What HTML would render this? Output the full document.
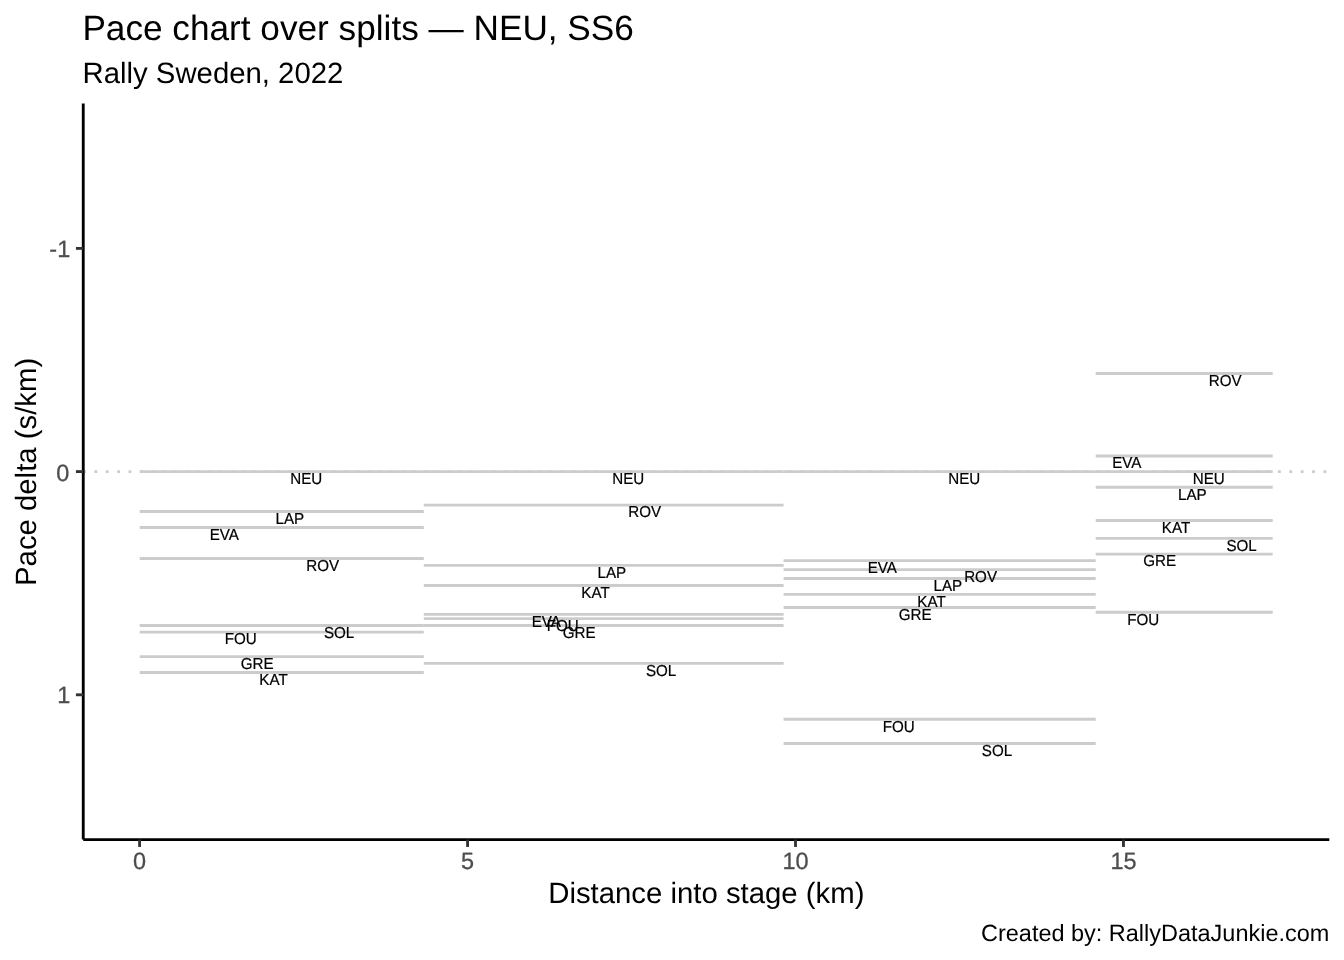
<!DOCTYPE html>
<html lang="en">
<head>
<meta charset="utf-8">
<title>Pace chart over splits — NEU, SS6</title>
<style>
html,body{margin:0;padding:0;background:#ffffff;}
body{width:1344px;height:960px;overflow:hidden;}
svg{display:block;}
text{font-family:"Liberation Sans",sans-serif;text-rendering:geometricPrecision;}
.title{font-size:35.2px;fill:#000;}
.subtitle{font-size:29.33px;fill:#000;}
.axtitle{font-size:29.33px;fill:#000;}
.tick{font-size:23.47px;fill:#4d4d4d;stroke:#4d4d4d;stroke-width:0.3px;}
.caption{font-size:23.47px;fill:#000;}
.lbl{font-size:15.17px;fill:#000;text-anchor:middle;stroke:#000;stroke-width:0.2px;}
.seg{stroke:#cccccc;stroke-width:2.85;fill:none;}
.axis{stroke:#000;stroke-width:2.85;fill:none;}
.tk{stroke:#333333;stroke-width:2.85;fill:none;}
</style>
</head>
<body>
<svg width="1344" height="960" viewBox="0 0 1344 960">
<rect x="0" y="0" width="1344" height="960" fill="#ffffff"/>
<line x1="83.05" y1="471.55" x2="1329.3" y2="471.55" stroke="#cccccc" stroke-width="2.85" stroke-dasharray="2.845 8.535"/>
<g class="seg">
<line x1="139.7" y1="527.50" x2="423.8" y2="527.50"/>
<line x1="139.7" y1="632.10" x2="423.8" y2="632.10"/>
<line x1="139.7" y1="656.60" x2="423.8" y2="656.60"/>
<line x1="139.7" y1="672.50" x2="423.8" y2="672.50"/>
<line x1="139.7" y1="511.50" x2="423.8" y2="511.50"/>
<line x1="139.7" y1="471.55" x2="423.8" y2="471.55"/>
<line x1="139.7" y1="558.50" x2="423.8" y2="558.50"/>
<line x1="139.7" y1="625.50" x2="423.8" y2="625.50"/>
<line x1="423.8" y1="614.40" x2="783.6" y2="614.40"/>
<line x1="423.8" y1="618.60" x2="783.6" y2="618.60"/>
<line x1="423.8" y1="625.50" x2="783.6" y2="625.50"/>
<line x1="423.8" y1="585.50" x2="783.6" y2="585.50"/>
<line x1="423.8" y1="565.40" x2="783.6" y2="565.40"/>
<line x1="423.8" y1="471.55" x2="783.6" y2="471.55"/>
<line x1="423.8" y1="505.10" x2="783.6" y2="505.10"/>
<line x1="423.8" y1="663.40" x2="783.6" y2="663.40"/>
<line x1="783.6" y1="560.60" x2="1095.7" y2="560.60"/>
<line x1="783.6" y1="719.20" x2="1095.7" y2="719.20"/>
<line x1="783.6" y1="607.50" x2="1095.7" y2="607.50"/>
<line x1="783.6" y1="594.40" x2="1095.7" y2="594.40"/>
<line x1="783.6" y1="578.50" x2="1095.7" y2="578.50"/>
<line x1="783.6" y1="471.55" x2="1095.7" y2="471.55"/>
<line x1="783.6" y1="569.60" x2="1095.7" y2="569.60"/>
<line x1="783.6" y1="743.50" x2="1095.7" y2="743.50"/>
<line x1="1095.7" y1="456.00" x2="1272.7" y2="456.00"/>
<line x1="1095.7" y1="612.20" x2="1272.7" y2="612.20"/>
<line x1="1095.7" y1="554.10" x2="1272.7" y2="554.10"/>
<line x1="1095.7" y1="520.50" x2="1272.7" y2="520.50"/>
<line x1="1095.7" y1="487.25" x2="1272.7" y2="487.25"/>
<line x1="1095.7" y1="471.55" x2="1272.7" y2="471.55"/>
<line x1="1095.7" y1="373.45" x2="1272.7" y2="373.45"/>
<line x1="1095.7" y1="538.40" x2="1272.7" y2="538.40"/>
</g>
<g class="lbl">
<text transform="translate(224.3,539.8) scale(1,1.045)">EVA</text>
<text transform="translate(240.7,644.4) scale(1,1.045)">FOU</text>
<text transform="translate(257.1,668.9) scale(1,1.045)">GRE</text>
<text transform="translate(273.5,684.8) scale(1,1.045)">KAT</text>
<text transform="translate(289.9,523.8) scale(1,1.045)">LAP</text>
<text transform="translate(306.3,483.9) scale(1,1.045)">NEU</text>
<text transform="translate(322.7,570.8) scale(1,1.045)">ROV</text>
<text transform="translate(339.1,637.8) scale(1,1.045)">SOL</text>
<text transform="translate(546.3,626.7) scale(1,1.045)">EVA</text>
<text transform="translate(562.7,630.9) scale(1,1.045)">FOU</text>
<text transform="translate(579.1,637.8) scale(1,1.045)">GRE</text>
<text transform="translate(595.5,597.8) scale(1,1.045)">KAT</text>
<text transform="translate(611.9,577.7) scale(1,1.045)">LAP</text>
<text transform="translate(628.3,483.9) scale(1,1.045)">NEU</text>
<text transform="translate(644.7,517.4) scale(1,1.045)">ROV</text>
<text transform="translate(661.1,675.7) scale(1,1.045)">SOL</text>
<text transform="translate(882.3,572.9) scale(1,1.045)">EVA</text>
<text transform="translate(898.7,731.5) scale(1,1.045)">FOU</text>
<text transform="translate(915.1,619.8) scale(1,1.045)">GRE</text>
<text transform="translate(931.5,606.7) scale(1,1.045)">KAT</text>
<text transform="translate(947.8,590.8) scale(1,1.045)">LAP</text>
<text transform="translate(964.2,483.9) scale(1,1.045)">NEU</text>
<text transform="translate(980.6,581.9) scale(1,1.045)">ROV</text>
<text transform="translate(997.0,755.8) scale(1,1.045)">SOL</text>
<text transform="translate(1126.8,468.3) scale(1,1.045)">EVA</text>
<text transform="translate(1143.2,624.5) scale(1,1.045)">FOU</text>
<text transform="translate(1159.6,566.4) scale(1,1.045)">GRE</text>
<text transform="translate(1176.0,532.8) scale(1,1.045)">KAT</text>
<text transform="translate(1192.4,499.6) scale(1,1.045)">LAP</text>
<text transform="translate(1208.8,483.9) scale(1,1.045)">NEU</text>
<text transform="translate(1225.2,385.8) scale(1,1.045)">ROV</text>
<text transform="translate(1241.6,550.7) scale(1,1.045)">SOL</text>
</g>
<g class="axis">
<line x1="83.25" y1="103.5" x2="83.25" y2="839.6"/>
<line x1="83.25" y1="839.6" x2="1329.3" y2="839.6"/>
</g>
<g class="tk">
<line x1="75.92" y1="248.40" x2="83.25" y2="248.40"/>
<line x1="75.92" y1="471.60" x2="83.25" y2="471.60"/>
<line x1="75.92" y1="694.80" x2="83.25" y2="694.80"/>
<line x1="139.60" y1="839.60" x2="139.60" y2="846.93"/>
<line x1="467.55" y1="839.60" x2="467.55" y2="846.93"/>
<line x1="795.50" y1="839.60" x2="795.50" y2="846.93"/>
<line x1="1123.45" y1="839.60" x2="1123.45" y2="846.93"/>
</g>
<g class="tick">
<text x="70.2" y="256.5" text-anchor="end">-1</text>
<text x="69.4" y="481.1" text-anchor="end">0</text>
<text x="70.2" y="703.2" text-anchor="end">1</text>
<text x="139.6" y="869.2" text-anchor="middle">0</text>
<text x="467.6" y="869.2" text-anchor="middle">5</text>
<text x="795.5" y="869.2" text-anchor="middle">10</text>
<text x="1123.5" y="869.2" text-anchor="middle">15</text>
</g>
<text class="title" x="82.4" y="39.9">Pace chart over splits — NEU, SS6</text>
<text class="subtitle" x="82.5" y="82.8">Rally Sweden, 2022</text>
<text class="axtitle" x="706.35" y="902.7" text-anchor="middle">Distance into stage (km)</text>
<text class="axtitle" transform="translate(35.8,471.9) rotate(-90)" text-anchor="middle">Pace delta (s/km)</text>
<text class="caption" x="1329.3" y="940.7" text-anchor="end">Created by: RallyDataJunkie.com</text>
</svg>
</body>
</html>
